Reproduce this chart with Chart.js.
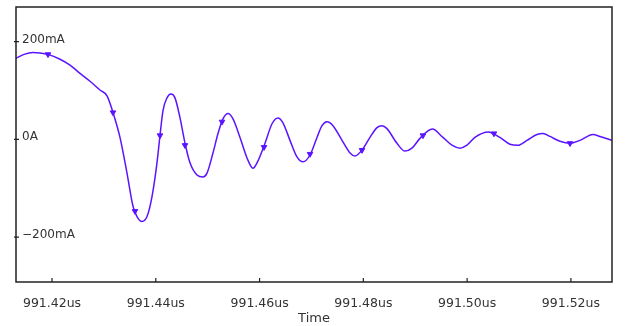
<!DOCTYPE html>
<html>
<head>
<meta charset="utf-8">
<script src="https://cdn.jsdelivr.net/npm/chart.js@4.4.1/dist/chart.umd.min.js"></script>
<style>
  html, body { margin: 0; padding: 0; background: #fff; }
  canvas { display: block; }
</style>
</head>
<body>
<canvas id="trace" width="626" height="326"></canvas>
<script>
"use strict";

/* --- DATA (time in us, current in mA) --- */

const time = [
  991.41306, 991.4146, 991.41634, 991.41769, 991.41923, 991.42154, 991.42347, 991.4254,
  991.42732, 991.42925, 991.4306, 991.43175, 991.4331, 991.43445, 991.43561, 991.43638,
  991.43734, 991.43831, 991.43927, 991.44023, 991.44081, 991.44139, 991.44216, 991.44293,
  991.4437, 991.44467, 991.44563, 991.44659, 991.44794, 991.4491, 991.44987, 991.45102,
  991.45199, 991.45295, 991.45392, 991.45488, 991.45623, 991.45758, 991.45873, 991.4597,
  991.46105, 991.4624, 991.46355, 991.46451, 991.46586, 991.46721, 991.46837, 991.46972,
  991.47107, 991.47203, 991.473, 991.47415, 991.47589, 991.47743, 991.47839, 991.47974,
  991.48128, 991.48263, 991.48359, 991.48455, 991.48648, 991.48802, 991.48937, 991.49091,
  991.4933, 991.49534, 991.49708, 991.49862, 991.49997, 991.5015, 991.5041,
  991.50632, 991.50825, 991.5098, 991.51153, 991.51346, 991.51462, 991.51597,
  991.5179, 991.51983, 991.52176, 991.52426, 991.5256, 991.52792
];

const current = [
  166, 174, 178, 177, 174, 164, 152, 135,
  119, 101, 89, 55, 4, -69, -137, -158,
  -168, -158, -117, -48, 8, 59, 85, 93,
  85, 44, -8, -48, -73, -77, -69, -28,
  12, 42, 53, 42, 4, -38, -59, -44,
  -8, 32, 44, 34, -2, -36, -46, -32,
  4, 28, 36, 28, -2, -28, -34, -22,
  4, 24, 28, 22, -8, -24, -18, 2,
  21, 4, -12, -18, -12, 4, 15,
  4, -10, -12, -2, 10, 12, 6,
  -4, -8, -2, 10, 6, -2
];

const markerTime = [991.41923, 991.43175, 991.43599, 991.44081, 991.44563, 991.45276,
  991.46086, 991.46972, 991.47974, 991.49149, 991.50517, 991.51983];
const markerCurrent = [174, 55, -147, 8, -12, 36, -16, -30, -22, 8, 12, -8];

const xTicks = [991.42, 991.44, 991.46, 991.48, 991.50, 991.52];
const yTicks = [-200, 0, 200];
const yTickLabels = ['\u2212200mA', '0A', '200mA'];

const x_min = 991.41306;
const x_max = 991.52792;
const y_min = -292;
const y_max = 271;

/* --- FRAME, INWARD TICKS, Y LABELS --- */

const frame_plugin = {
  id: 'frame',
  afterDraw(chart) {
    const ctx = chart.ctx;
    const a = chart.chartArea;
    const xs = chart.scales.x;
    const ys = chart.scales.y;
    ctx.save();
    ctx.strokeStyle = '#222';
    ctx.lineWidth = 1.5;
    ctx.strokeRect(a.left, a.top, a.right - a.left, a.bottom - a.top);
    ctx.lineWidth = 1.2;
    ctx.beginPath();
    xTicks.forEach(v => {
      const px = xs.getPixelForValue(v);
      ctx.moveTo(px, a.bottom);
      ctx.lineTo(px, a.bottom - 4);
    });
    yTicks.forEach(v => {
      const py = ys.getPixelForValue(v);
      ctx.moveTo(a.left - 2, py);
      ctx.lineTo(a.left + 3, py);
    });
    ctx.stroke();

    // y labels sit inside the plot, just right of the axis
    ctx.fillStyle = '#333';
    ctx.font = '12px "DejaVu Sans"';
    ctx.textAlign = 'left';
    ctx.textBaseline = 'middle';
    yTicks.forEach((v, i) => {
      ctx.fillText(yTickLabels[i], a.left + 6, ys.getPixelForValue(v) - 2);
    });
    ctx.restore();
  }
};

const trace = document.getElementById('trace');

let trace_chart = new Chart(trace, {
  type: 'line',
  data: {
    datasets: [{
      label: 'I',
      data: time.map((t, i) => ({ x: t, y: current[i] })),
      borderColor: '#5b14ff',
      borderWidth: 1.5,
      pointRadius: 0,
      cubicInterpolationMode: 'monotone',
      order: 2
    }, {
      label: 'markers',
      data: markerTime.map((t, i) => ({ x: t, y: markerCurrent[i] })),
      showLine: false,
      pointStyle: 'triangle',
      rotation: 180,
      pointRadius: 3.2,
      backgroundColor: '#5b14ff',
      borderColor: '#5b14ff',
      borderWidth: 1,
      order: 1
    }]
  },
  options: {
    responsive: false,
    animation: false,
    layout: {
      padding: { top: 7, right: 14, left: 16, bottom: 0 }
    },
    plugins: {
      legend: { display: false },
      tooltip: { enabled: false },
      title: { display: false }
    },
    scales: {
      x: {
        type: 'linear',
        min: x_min,
        max: x_max,
        grid: { display: false },
        border: { display: false },
        afterBuildTicks: s => { s.ticks = xTicks.map(v => ({ value: v })); },
        afterFit: s => { s.height = 44; },
        ticks: {
          padding: 6,
          autoSkip: false,
          color: '#333',
          maxRotation: 0,
          font: { family: 'DejaVu Sans', size: 12.5 },
          callback: v => v.toFixed(2) + 'us'
        },
        title: {
          display: true,
          text: 'Time',
          color: '#333',
          padding: { top: 6, bottom: 0 },
          font: { family: 'DejaVu Sans', size: 13 }
        }
      },
      y: {
        type: 'linear',
        min: y_min,
        max: y_max,
        grid: { display: false },
        border: { display: false },
        afterBuildTicks: s => { s.ticks = yTicks.map(v => ({ value: v })); },
        afterFit: s => { s.width = 0; },
        ticks: { display: false }
      }
    }
  },
  plugins: [frame_plugin]
});
</script>
</body>
</html>
